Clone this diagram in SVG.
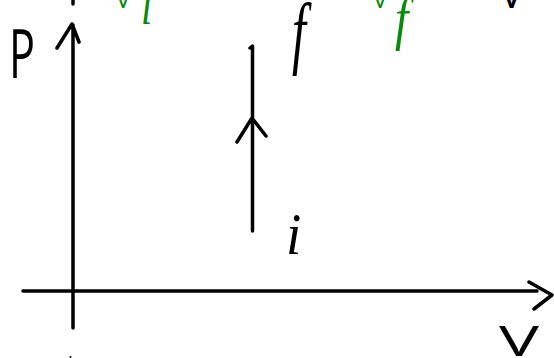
<svg xmlns="http://www.w3.org/2000/svg" width="554" height="358" viewBox="0 0 554 358">
<style>
.ink{fill:none;stroke:#000;stroke-width:3.5;stroke-linecap:round;stroke-linejoin:round}
.sans{font-family:"Open Sans","Liberation Sans","DejaVu Sans",sans-serif;font-weight:400;fill:#000}
.ital{font-family:"Liberation Serif","DejaVu Serif",serif;font-style:italic;fill:#000}
.green{fill:#0a8a0a;font-weight:300}
</style>
<rect width="554" height="358" fill="#fff"/>
<g id="axes">
<path class="ink" d="M73 328 L73 25 M57 48 L72 24 L79 42"/>
<path class="ink" d="M23 291 L537 291 M529 282 L552 295 L534 309"/>
<path class="ink" d="M73 0 L73 4" stroke-width="3"/>
<circle cx="70.5" cy="357" r="1" fill="#000"/>
</g>
<g id="connectors">
<path class="ink" d="M250 48 L252.5 46 L252.5 231 M237 142 L252 118 L266 136"/>
</g>
<g id="label-P"><text class="sans" x="9" y="78" font-size="68" textLength="26" lengthAdjust="spacingAndGlyphs">P</text></g>
<g id="node-f" transform="translate(292 59) scale(1 1.6)"><text class="ital" x="0" y="0" font-size="50">f</text></g>
<g id="node-i" transform="translate(286 254) scale(1.1 1.2)"><text class="ital" x="0" y="0" font-size="50">i</text></g>
<g id="label-V"><text class="sans" x="499" y="356" font-size="42" textLength="40" lengthAdjust="spacingAndGlyphs">V</text></g>
<g id="label-Vi">
<text class="sans green" x="111" y="8" font-size="42">V</text>
<text class="ital green" transform="translate(141 24) scale(1 1.4)" font-size="40">i</text>
</g>
<g id="label-Vf">
<text class="sans green" x="368" y="8" font-size="42">V</text>
<text class="ital green" transform="translate(395 38) scale(1.2 1.5)" font-size="40">f</text>
</g>
<g id="label-V-top"><text class="sans" x="499" y="8" font-size="42">V</text></g>
</svg>
